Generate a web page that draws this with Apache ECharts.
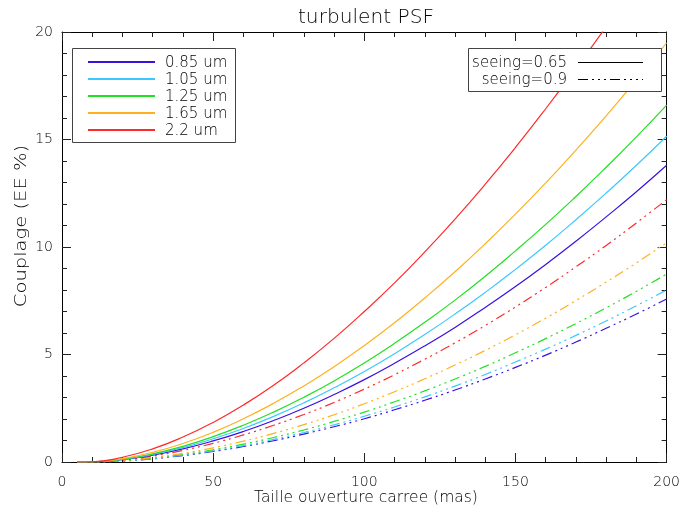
<!DOCTYPE html>
<html>
<head>
<meta charset="utf-8">
<script src="https://cdn.jsdelivr.net/npm/echarts@6/dist/echarts.min.js"></script>
<style>
html,body{margin:0;padding:0;background:#fff;}
#chart{width:683px;height:510px;}
</style>
</head>
<body>
<div id="chart"></div>
<script>
// Aperture size (mas)
var apertureMas = [5,10,20,30,40,50,60,70,80,90,100,110,120,130,140,150,160,170,180,190,200];

// seeing = 0.65 (solid)
var solid085 = [0,0.005,0.11,0.32,0.61,0.98,1.42,1.93,2.50,3.14,3.83,4.59,5.40,6.26,7.19,8.16,9.19,10.27,11.40,12.57,13.8];
var solid105 = [0,0.005,0.12,0.35,0.67,1.08,1.56,2.12,2.75,3.45,4.21,5.04,5.93,6.88,7.89,8.96,10.08,11.27,12.51,13.80,15.15];
var solid125 = [0,0.006,0.13,0.38,0.73,1.18,1.71,2.32,3.01,3.77,4.61,5.52,6.50,7.53,8.64,9.82,11.05,12.35,13.71,15.12,16.6];
var solid165 = [0,0.007,0.16,0.45,0.86,1.38,2.01,2.73,3.54,4.43,5.42,6.48,7.63,8.85,10.15,11.53,12.98,14.51,16.10,17.77,19.5];
var solid220 = [0,0.010,0.22,0.61,1.16,1.84,2.65,3.57,4.61,5.75,7.00,8.33,9.77,11.30,12.92,14.63,16.43,18.31,20.25,22.31,24.41];

// seeing = 0.9 (dash-dot-dot-dot)
var dashed085 = [0,0.002,0.05,0.15,0.30,0.49,0.72,0.99,1.30,1.64,2.01,2.43,2.87,3.35,3.86,4.40,4.97,5.58,6.22,6.88,7.58];
var dashed105 = [0,0.002,0.05,0.16,0.32,0.52,0.76,1.05,1.37,1.73,2.13,2.56,3.03,3.53,4.07,4.65,5.25,5.89,6.56,7.27,8.0];
var dashed125 = [0,0.002,0.06,0.18,0.35,0.57,0.83,1.14,1.49,1.89,2.32,2.80,3.31,3.86,4.45,5.08,5.74,6.44,7.17,7.94,8.74];
var dashed165 = [0,0.003,0.07,0.21,0.40,0.66,0.97,1.33,1.74,2.20,2.71,3.27,3.87,4.51,5.19,5.92,6.69,7.51,8.37,9.26,10.2];
var dashed220 = [0,0.004,0.10,0.28,0.54,0.87,1.26,1.71,2.21,2.77,3.39,4.06,4.78,5.54,6.35,7.21,8.12,9.08,10.07,11.12,12.2];

var wavelengthLabels = ['0.85 um','1.05 um','1.25 um','1.65 um','2.2 um'];
var seeingLabels = ['seeing=0.65','seeing=0.9'];
var xTicks = [0,50,100,150,200];
var yTicks = [0,5,10,15,20];
var chartTitle = 'turbulent PSF';
var xTitle = 'Taille ouverture carree (mas)';
var yTitle = 'Couplage (EE %)';

var colors = ['#3a10e0','#3cc8ff','#22e022','#ffb020','#ff2a2a'];
var dashPattern = [10,4,2,4,2,4,2,4];

var solidSets = [solid085,solid105,solid125,solid165,solid220];
var dashedSets = [dashed085,dashed105,dashed125,dashed165,dashed220];

var X_MIN = 0, X_MAX = 200, Y_MIN = 0, Y_MAX = 20;

function pairs(vals){ return apertureMas.map(function(x,i){ return [x, vals[i]]; }); }

var series = [];
dashedSets.forEach(function(d,i){
  series.push({type:'line', data:pairs(d), symbol:'none', smooth:true, clip:true,
    lineStyle:{color:colors[i], width:1.2, type:dashPattern}, silent:true, z:2});
});
solidSets.forEach(function(d,i){
  series.push({type:'line', data:pairs(d), symbol:'none', smooth:true, clip:true,
    lineStyle:{color:colors[i], width:1.2}, silent:true, z:3});
});

var font = '"DejaVu Sans"';
var txtColor = '#000';
var fw = 200;

var graphics = [];
// Titles
graphics.push({type:'text', x:366, y:18, scaleX:1.06, style:{text:chartTitle, fill:txtColor,
  font: fw+' 19px '+font, textAlign:'center', align:'center', textVerticalAlign:'middle', verticalAlign:'middle'}, z:11});
graphics.push({type:'text', x:366, y:498, style:{text:xTitle, fill:txtColor,
  font: fw+' 15.5px '+font, textAlign:'center', align:'center', textVerticalAlign:'middle', verticalAlign:'middle'}, z:11});
graphics.push({type:'text', x:22, y:226, rotation:Math.PI/2, scaleX:1.22, style:{text:yTitle, fill:txtColor,
  font: fw+' 16px '+font, textAlign:'center', align:'center', textVerticalAlign:'middle', verticalAlign:'middle'}, z:11});

// Left legend (wavelengths)
graphics.push({type:'rect', shape:{x:72.5,y:48.5,width:163,height:94}, style:{fill:'#fff', stroke:'#444', lineWidth:1}, z:10});
wavelengthLabels.forEach(function(lbl,i){
  var y = 62 + i*17;
  graphics.push({type:'line', shape:{x1:88,y1:y,x2:155,y2:y}, style:{stroke:colors[i], lineWidth:2}, z:11});
  graphics.push({type:'text', x:165, y:y+1, style:{text:lbl, fill:txtColor, font: fw+' 15px '+font, textVerticalAlign:'middle', verticalAlign:'middle'}, z:11});
});
// Right legend (seeing)
graphics.push({type:'rect', shape:{x:468.5,y:48.5,width:193,height:43}, style:{fill:'#fff', stroke:'#444', lineWidth:1}, z:10});
seeingLabels.forEach(function(lbl,i){
  var y = 62 + i*17;
  graphics.push({type:'line', shape:{x1:578,y1:y+0.5,x2:643,y2:y+0.5}, style:{stroke:'#000', lineWidth:1, lineDash:(i===1?dashPattern:null)}, z:11});
  graphics.push({type:'text', x:567, y:y+1, style:{text:lbl, fill:txtColor, font: fw+' 15px '+font, textAlign:'right', align:'right', textVerticalAlign:'middle', verticalAlign:'middle'}, z:11});
});

function axisDef(extra){
  var base = {
    type:'value',
    axisLine:{show:true, onZero:false, lineStyle:{color:'#000', width:1}},
    axisTick:{show:true, inside:true, length:9, lineStyle:{color:'#222', width:1}},
    minorTick:{show:true, splitNumber:5, length:5, lineStyle:{color:'#222', width:1}},
    splitLine:{show:false}, minorSplitLine:{show:false},
    axisLabel:{show:false}
  };
  for (var k in extra) base[k] = extra[k];
  return base;
}
var xLabel = {show:true, margin:13, fontFamily:'DejaVu Sans', fontWeight:fw, fontSize:14, color:txtColor, customValues:xTicks};
var yLabel = {show:true, margin:9, fontFamily:'DejaVu Sans', fontWeight:fw, fontSize:14, color:txtColor, customValues:yTicks};

var chart = echarts.init(document.getElementById('chart'), null, {renderer:'canvas'});
chart.setOption({
  animation:false,
  backgroundColor:'#fff',
  grid:{left:62, right:13, top:32, bottom:48},
  xAxis:[
    axisDef({min:X_MIN, max:X_MAX, interval:50, position:'bottom', axisLabel:xLabel}),
    axisDef({min:X_MIN, max:X_MAX, interval:50, position:'top'})
  ],
  yAxis:[
    axisDef({min:Y_MIN, max:Y_MAX, interval:5, position:'left', axisLabel:yLabel}),
    axisDef({min:Y_MIN, max:Y_MAX, interval:5, position:'right'})
  ],
  series:series,
  graphic:graphics
});
</script>
</body>
</html>
